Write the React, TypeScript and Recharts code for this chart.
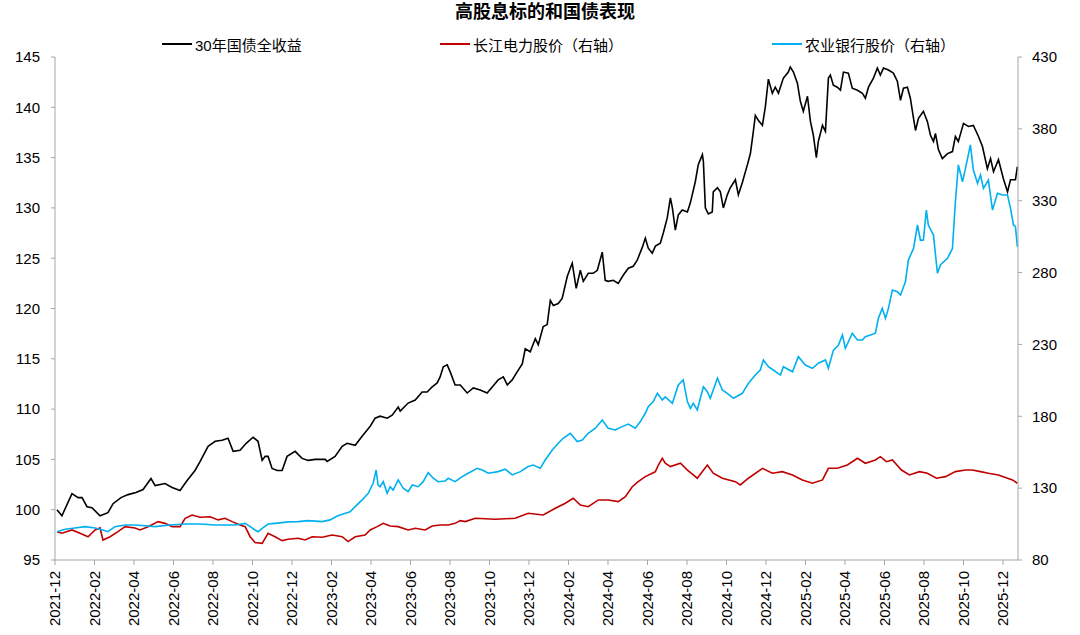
import { LineChart, Line, XAxis, YAxis } from "recharts";

// months since 2021-12-01, value
const bond30y: [number, number][] = [
  [0.1, 100.0], [0.35, 99.4], [0.86, 101.6], [1.17, 101.2], [1.37, 101.2], [1.62, 100.3], [1.87, 100.2],
  [2.28, 99.4], [2.68, 99.7], [2.94, 100.6], [3.34, 101.2], [3.7, 101.5], [4.1, 101.7], [4.46, 102.0],
  [4.86, 103.1], [5.07, 102.4], [5.57, 102.6], [5.93, 102.2], [6.33, 101.9], [6.69, 102.9], [7.09, 103.9],
  [7.35, 104.8], [7.75, 106.3], [8.11, 106.8], [8.46, 106.9], [8.76, 107.1], [9.02, 105.8], [9.37, 105.9],
  [9.68, 106.6], [10.03, 107.2], [10.28, 106.8], [10.49, 104.9], [10.64, 105.3], [10.79, 105.3], [10.99, 104.1],
  [11.25, 103.9], [11.5, 103.9], [11.75, 105.3], [12.16, 105.8], [12.51, 105.1], [12.82, 104.9], [13.17, 105.0],
  [13.68, 105.0], [13.78, 104.8], [14.18, 105.3], [14.54, 106.3], [14.79, 106.6], [15.2, 106.4], [15.55, 107.3],
  [15.96, 108.3], [16.21, 109.1], [16.46, 109.3], [16.82, 109.1], [17.07, 109.4], [17.38, 110.2], [17.48, 109.8],
  [17.88, 110.6], [18.24, 110.9], [18.59, 111.7], [18.84, 111.7], [19.1, 112.2], [19.35, 112.6], [19.5, 113.2],
  [19.66, 114.2], [19.86, 114.4], [20.01, 113.7], [20.26, 112.4], [20.52, 112.4], [20.87, 111.6], [21.18, 112.1],
  [21.53, 111.9], [21.88, 111.6], [22.14, 112.2], [22.44, 112.9], [22.7, 113.2], [22.9, 112.4], [23.15, 112.9],
  [23.4, 113.7], [23.66, 114.5], [23.81, 116.0], [24.06, 115.7], [24.32, 117.0], [24.47, 116.4], [24.72, 118.2],
  [24.92, 118.4], [25.08, 120.8], [25.23, 120.3], [25.48, 120.5], [25.68, 121.0], [25.94, 123.2], [26.09, 124.0],
  [26.19, 124.5], [26.39, 122.0], [26.6, 123.8], [26.75, 122.7], [27.0, 123.5], [27.25, 123.5], [27.46, 123.8],
  [27.71, 125.6], [27.86, 122.8], [28.01, 122.7], [28.27, 122.8], [28.52, 122.5], [28.77, 123.3], [29.03, 124.0],
  [29.28, 124.2], [29.48, 124.8], [29.74, 126.1], [29.89, 127.0], [30.04, 126.0], [30.24, 125.5], [30.4, 126.2],
  [30.65, 126.5], [30.8, 127.5], [31.0, 129.0], [31.16, 131.0], [31.26, 130.0], [31.41, 127.8], [31.56, 129.3],
  [31.76, 129.8], [32.02, 129.6], [32.17, 130.5], [32.42, 132.6], [32.57, 134.3], [32.78, 135.3], [32.83, 134.6],
  [32.93, 130.0], [33.08, 129.4], [33.28, 129.6], [33.33, 131.6], [33.54, 132.0], [33.69, 131.6], [33.84, 130.0],
  [34.04, 131.3], [34.19, 132.0], [34.45, 132.8], [34.6, 131.3], [34.8, 132.5], [35.06, 134.3], [35.21, 135.4],
  [35.36, 137.6], [35.46, 139.2], [35.61, 138.7], [35.82, 138.2], [35.97, 140.1], [36.12, 142.8], [36.32, 141.4],
  [36.47, 142.0], [36.63, 141.4], [36.88, 142.9], [37.13, 143.5], [37.23, 144.0], [37.39, 143.5], [37.59, 142.4],
  [37.74, 140.6], [37.89, 139.6], [38.1, 141.1], [38.25, 138.6], [38.4, 137.2], [38.55, 135.0], [38.65, 136.6],
  [38.86, 138.2], [39.01, 137.6], [39.16, 142.9], [39.26, 143.2], [39.41, 142.2], [39.61, 142.0], [39.77, 141.7],
  [39.92, 143.5], [40.17, 143.4], [40.37, 141.9], [40.63, 141.7], [40.88, 141.4], [41.03, 140.9], [41.19, 142.0],
  [41.44, 142.9], [41.64, 143.9], [41.79, 143.2], [41.95, 143.9], [42.2, 143.7], [42.45, 143.4], [42.65, 142.6],
  [42.81, 140.7], [42.96, 141.9], [43.16, 142.0], [43.31, 140.9], [43.47, 138.9], [43.57, 137.7], [43.72, 138.9],
  [43.97, 139.6], [44.17, 138.6], [44.33, 137.2], [44.48, 136.6], [44.58, 137.4], [44.73, 135.8], [44.93, 134.9],
  [45.19, 135.4], [45.44, 135.6], [45.59, 137.1], [45.74, 136.6], [46.0, 138.4], [46.25, 138.1], [46.5, 138.2],
  [46.76, 137.1], [46.96, 136.1], [47.21, 133.9], [47.37, 134.9], [47.52, 133.6], [47.77, 134.8], [48.02, 132.9],
  [48.23, 131.6], [48.38, 132.8], [48.63, 132.8], [48.73, 134.1],
];

const cyPower: [number, number][] = [
  [0.1, 99.7], [0.35, 98.6], [0.86, 100.9], [1.27, 98.6], [1.67, 96.2], [2.03, 100.9], [2.28, 102.3],
  [2.43, 93.9], [2.79, 96.2], [3.19, 99.7], [3.55, 103.2], [4.05, 102.3], [4.31, 100.9], [4.71, 103.2],
  [5.22, 106.7], [5.57, 105.5], [5.93, 103.2], [6.33, 103.2], [6.59, 109.0], [6.94, 111.3], [7.35, 109.7],
  [7.85, 110.1], [8.26, 107.9], [8.61, 109.0], [8.97, 106.7], [9.37, 104.4], [9.63, 103.2], [9.88, 96.2],
  [10.13, 92.1], [10.49, 91.6], [10.79, 98.6], [11.14, 96.2], [11.5, 93.5], [11.8, 94.4], [12.31, 95.1],
  [12.66, 93.9], [13.02, 96.2], [13.53, 95.8], [14.03, 97.4], [14.54, 96.2], [14.84, 92.8], [15.2, 96.2],
  [15.7, 97.4], [15.96, 100.9], [16.31, 103.2], [16.62, 105.5], [16.97, 103.6], [17.38, 103.2], [17.88, 100.9],
  [18.24, 102.1], [18.74, 100.9], [19.1, 103.6], [19.5, 104.4], [19.91, 104.4], [20.26, 105.5], [20.52, 107.4],
  [20.77, 106.7], [21.28, 109.0], [22.29, 108.4], [23.3, 109.0], [23.96, 112.5], [24.72, 111.3], [25.33, 116.0],
  [25.84, 119.5], [26.24, 123.0], [26.6, 118.3], [27.0, 117.1], [27.51, 121.8], [28.01, 121.8], [28.52, 120.6],
  [28.88, 124.1], [29.23, 131.0], [29.53, 134.5], [29.89, 138.0], [30.24, 140.4], [30.4, 141.5], [30.55, 146.1],
  [30.75, 150.8], [30.9, 147.3], [31.16, 145.0], [31.67, 147.3], [32.02, 142.6], [32.32, 139.2], [32.52, 136.9],
  [33.03, 146.1], [33.33, 140.4], [33.79, 136.9], [34.45, 134.5], [34.7, 132.2], [35.11, 136.9], [35.82, 143.8],
  [36.32, 140.4], [36.83, 141.5], [37.34, 139.2], [37.84, 135.7], [38.35, 133.4], [38.86, 135.7], [39.16, 143.8],
  [39.61, 143.8], [40.12, 146.1], [40.63, 150.8], [41.03, 147.3], [41.54, 149.6], [41.79, 151.9], [42.1, 148.4],
  [42.4, 149.6], [42.86, 142.6], [43.26, 139.2], [43.77, 141.5], [44.17, 140.4], [44.63, 136.9], [45.09, 138.0],
  [45.59, 141.5], [46.1, 142.6], [46.45, 142.6], [46.86, 141.5], [47.26, 140.4], [47.77, 139.2], [48.23, 136.9],
  [48.48, 135.7], [48.73, 133.4],
];

const abcBank: [number, number][] = [
  [0.1, 99.7], [0.51, 101.4], [1.01, 102.3], [1.52, 103.2], [2.03, 102.3], [2.43, 100.9], [2.68, 99.7],
  [3.04, 103.2], [3.55, 104.4], [4.05, 104.4], [4.56, 103.8], [5.07, 103.2], [5.83, 104.4], [6.59, 105.0],
  [7.35, 105.0], [8.11, 104.4], [9.12, 104.4], [9.63, 105.5], [9.88, 103.2], [10.13, 100.9], [10.28, 99.7],
  [10.49, 102.0], [10.79, 105.0], [11.14, 105.5], [11.5, 106.0], [11.8, 106.5], [12.31, 106.7], [12.82, 107.4],
  [13.53, 106.7], [13.93, 107.9], [14.29, 110.6], [14.59, 112.0], [14.94, 113.6], [15.2, 117.1], [15.55, 121.8],
  [15.86, 126.4], [16.11, 133.4], [16.26, 142.6], [16.36, 132.2], [16.46, 131.0], [16.62, 134.5], [16.82, 126.4],
  [16.97, 131.0], [17.12, 128.7], [17.38, 135.7], [17.63, 129.9], [17.88, 127.6], [18.09, 132.2], [18.39, 131.0],
  [18.64, 134.5], [18.9, 140.8], [19.15, 136.9], [19.4, 134.5], [19.76, 135.0], [19.91, 136.9], [20.26, 134.5],
  [20.62, 138.0], [20.92, 140.4], [21.38, 143.8], [21.63, 142.6], [21.94, 140.4], [22.44, 141.5], [22.8, 143.2],
  [23.15, 139.2], [23.56, 141.5], [23.96, 145.0], [24.21, 146.1], [24.57, 143.8], [24.82, 149.6], [25.18, 156.5],
  [25.48, 161.2], [25.73, 164.7], [26.09, 168.2], [26.44, 162.4], [26.7, 163.5], [27.0, 168.2], [27.36, 171.7],
  [27.71, 177.4], [28.01, 171.7], [28.37, 170.5], [28.72, 172.8], [29.03, 174.6], [29.38, 171.7], [29.64, 176.3],
  [29.89, 182.1], [30.04, 186.7], [30.29, 190.2], [30.5, 196.0], [30.75, 191.3], [30.9, 193.5], [31.26, 189.0],
  [31.56, 201.8], [31.81, 205.3], [32.02, 190.2], [32.17, 185.5], [32.32, 189.0], [32.52, 184.4], [32.83, 200.6],
  [33.03, 197.1], [33.18, 192.5], [33.54, 206.5], [33.79, 198.3], [34.04, 196.0], [34.35, 192.5], [34.8, 196.0],
  [35.11, 203.0], [35.46, 208.7], [35.71, 212.2], [35.87, 219.2], [36.12, 214.5], [36.37, 212.2], [36.73, 208.7],
  [36.88, 214.5], [37.34, 211.0], [37.64, 221.5], [37.99, 215.7], [38.35, 213.4], [38.65, 216.9], [39.01, 219.2],
  [39.16, 213.4], [39.41, 225.9], [39.67, 229.6], [39.87, 236.6], [40.02, 227.3], [40.37, 237.8], [40.63, 233.1],
  [40.88, 233.1], [41.03, 235.4], [41.29, 236.6], [41.54, 237.8], [41.69, 248.2], [41.89, 255.1], [42.05, 248.2],
  [42.2, 255.1], [42.4, 267.9], [42.65, 266.7], [42.81, 264.4], [43.06, 273.6], [43.21, 288.7], [43.47, 296.8],
  [43.67, 313.1], [43.82, 302.6], [43.97, 302.6], [44.12, 323.5], [44.22, 313.1], [44.48, 306.1], [44.68, 279.5],
  [44.83, 285.3], [45.19, 289.9], [45.44, 296.8], [45.59, 329.3], [45.74, 354.9], [45.95, 343.2], [46.1, 352.5],
  [46.35, 368.8], [46.5, 351.4], [46.71, 342.1], [46.86, 347.9], [47.01, 338.6], [47.26, 344.4], [47.47, 323.5],
  [47.72, 335.2], [47.97, 334.0], [48.23, 334.0], [48.38, 324.7], [48.53, 313.1], [48.63, 311.9], [48.73, 298.0],
];

const monthLabels = [
  "2021-12", "2022-02", "2022-04", "2022-06", "2022-08", "2022-10", "2022-12",
  "2023-02", "2023-04", "2023-06", "2023-08", "2023-10", "2023-12",
  "2024-02", "2024-04", "2024-06", "2024-08", "2024-10", "2024-12",
  "2025-02", "2025-04", "2025-06", "2025-08", "2025-10", "2025-12",
];
const leftTicks = [95, 100, 105, 110, 115, 120, 125, 130, 135, 140, 145];
const rightTicks = [80, 130, 180, 230, 280, 330, 380, 430];

const toRows = (s: [number, number][]) => s.map(([t, v]) => ({ t, v }));
const xTicks = monthLabels.map((_, i) => i * 2);

const FONT = 'Arial, "Liberation Sans", "Noto Sans CJK SC", sans-serif';
const AXIS = "#a6a6a6";

const DateTick = (props: any) => {
  const { x, payload } = props;
  const label = monthLabels[Math.round(payload.value / 2)] ?? "";
  return (
    <text
      x={x}
      y={571}
      transform={`rotate(-90, ${x}, 571)`}
      textAnchor="end"
      dy="0.35em"
      fontSize={15}
      fontFamily={FONT}
      fill="#000"
    >
      {label}
    </text>
  );
};

const legendItems = [
  { name: "30年国债全收益", color: "#000000", left: 162 },
  { name: "长江电力股价（右轴）", color: "#c00000", left: 440 },
  { name: "农业银行股价（右轴）", color: "#00b0f0", left: 772 },
];

const App = () => {
  return (
    <div style={{ position: "absolute", left: 0, top: 0, width: 1080, height: 635, background: "#fff", fontFamily: FONT }}>
      <div
        style={{
          position: "absolute",
          left: 0,
          top: 0,
          width: 1090,
          textAlign: "center",
          fontSize: 18,
          fontWeight: 700,
          lineHeight: "25px",
          color: "#000",
        }}
      >
        高股息标的和国债表现
      </div>
      {legendItems.map((it) => (
        <div
          key={it.name}
          style={{ position: "absolute", left: it.left, top: 33, height: 22, display: "flex", alignItems: "center" }}
        >
          <span style={{ display: "inline-block", width: 30, height: 2, background: it.color, marginRight: 3 }} />
          <span style={{ fontSize: 15, color: "#000", whiteSpace: "nowrap" }}>{it.name}</span>
        </div>
      ))}
      <LineChart width={1080} height={635} margin={{ top: 57, right: 12, bottom: 10, left: 10 }}>
        <XAxis
          dataKey="t"
          type="number"
          domain={[0, 48.76]}
          ticks={xTicks}
          interval={0}
          allowDataOverflow
          height={65}
          stroke={AXIS}
          tickSize={5}
          tick={<DateTick />}
        />
        <YAxis
          yAxisId="left"
          orientation="left"
          domain={[95, 145]}
          ticks={leftTicks}
          interval={0}
          width={45}
          stroke={AXIS}
          tickSize={4}
          tickMargin={11}
          tick={{ fill: "#000", fontSize: 15, fontFamily: FONT }}
        />
        <YAxis
          yAxisId="right"
          orientation="right"
          domain={[80, 430]}
          ticks={rightTicks}
          interval={0}
          width={50}
          stroke={AXIS}
          tickSize={4}
          tickMargin={10}
          tick={{ fill: "#000", fontSize: 15, fontFamily: FONT }}
        />
        <Line
          yAxisId="right"
          data={toRows(cyPower)}
          dataKey="v"
          type="linear"
          stroke="#c00000"
          strokeWidth={1.6}
          dot={false}
          isAnimationActive={false}
        />
        <Line
          yAxisId="right"
          data={toRows(abcBank)}
          dataKey="v"
          type="linear"
          stroke="#00b0f0"
          strokeWidth={1.6}
          dot={false}
          isAnimationActive={false}
        />
        <Line
          yAxisId="left"
          data={toRows(bond30y)}
          dataKey="v"
          type="linear"
          stroke="#000000"
          strokeWidth={1.6}
          dot={false}
          isAnimationActive={false}
        />
      </LineChart>
    </div>
  );
};

export default App;
